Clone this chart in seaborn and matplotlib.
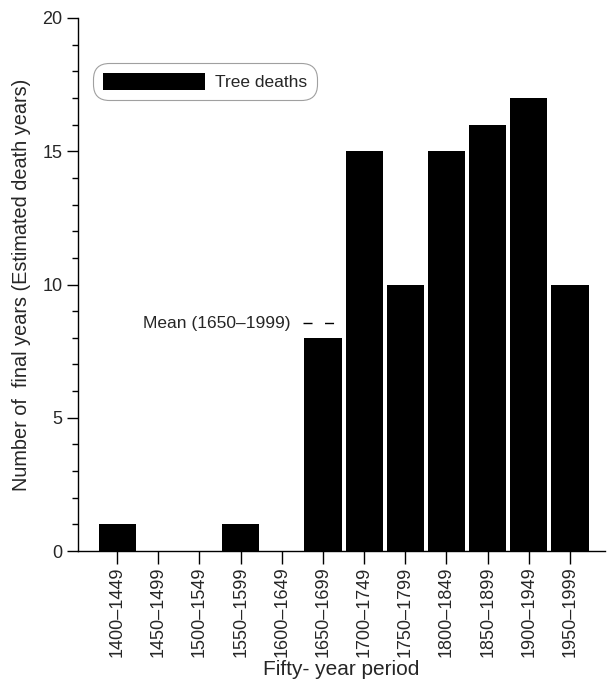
import matplotlib
matplotlib.use("Agg")
import matplotlib.pyplot as plt
import seaborn as sns
import pandas as pd
from matplotlib.ticker import MultipleLocator

periods = ["1400\u20131449", "1450\u20131499", "1500\u20131549", "1550\u20131599",
           "1600\u20131649", "1650\u20131699", "1700\u20131749", "1750\u20131799",
           "1800\u20131849", "1850\u20131899", "1900\u20131949", "1950\u20131999"]
deaths = [1, 0, 0, 1, 0, 8, 15, 10, 15, 16, 17, 10]
mean_level = 8.55
mean_label = "Mean (1650\u20131999)"

sns.set_theme(style="ticks")
plt.rcParams['font.family'] = ['Liberation Sans', 'DejaVu Sans']

df = pd.DataFrame({"period": periods, "deaths": deaths})

fig = plt.figure(figsize=(6.08, 6.88), dpi=100)
ax = fig.add_axes([78/608, (688-551)/688, (605-78)/608, (551-18)/688])

sns.barplot(data=df, x="period", y="deaths", color="black", width=0.9,
            saturation=1, ax=ax, label="Tree deaths", edgecolor="black", linewidth=0)

ax.set_xlim(-0.95, 11.85)
ax.set_ylim(0, 20)
ax.yaxis.set_major_locator(MultipleLocator(5))
ax.yaxis.set_minor_locator(MultipleLocator(1))
ax.tick_params(axis="y", which="major", length=8, width=1, labelsize=13, color="black", pad=3)
ax.tick_params(axis="y", which="minor", length=4, width=1, color="black")
ax.tick_params(axis="x", which="major", length=9, width=1, labelsize=13, color="black", pad=2)
plt.setp(ax.get_xticklabels(), rotation=90)

for s in ["top", "right"]:
    ax.spines[s].set_visible(False)
for s in ["left", "bottom"]:
    ax.spines[s].set_color("black")
    ax.spines[s].set_linewidth(1)

ax.set_xlabel("Fifty- year period", fontsize=15, labelpad=2)
ax.set_ylabel("Number of  final years (Estimated death years)", fontsize=14.3, labelpad=8)

# mean annotation
ax.plot([4.51, 5.6], [mean_level, mean_level], color="black", lw=1, dashes=(6.5, 9))
ax.text(4.2, mean_level, mean_label, ha="right", va="center", fontsize=12.5)

leg = ax.legend(loc="upper left", bbox_to_anchor=(0.0285, 0.9156), fontsize=12.5,
                handlelength=5.9, handleheight=1.2, handletextpad=0.6,
                borderpad=0.55, borderaxespad=0, fancybox=True, frameon=True)
leg.get_frame().set_edgecolor("#888888")
leg.get_frame().set_linewidth(0.8)
leg.get_frame().set_boxstyle("round", pad=0.0, rounding_size=0.9)

fig.savefig("out.png", dpi=100)
